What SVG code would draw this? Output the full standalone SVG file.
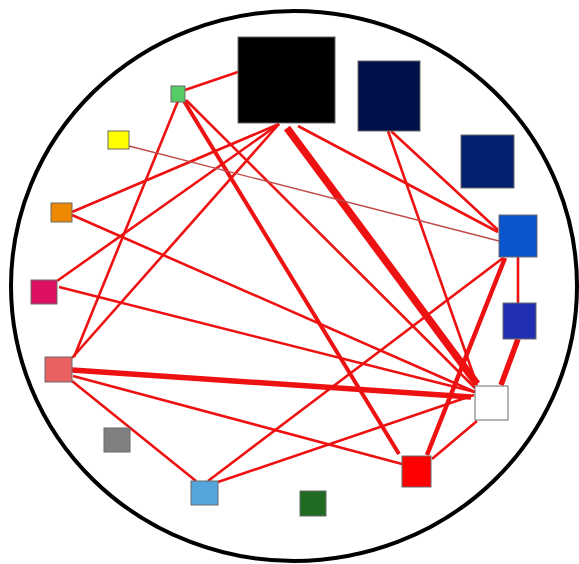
<svg xmlns="http://www.w3.org/2000/svg" width="579" height="564" viewBox="0 0 579 564">
<style>
.n{stroke:#6a6a6a;stroke-width:1}
.e{stroke:#ee1111;stroke-width:2.6;fill:none;stroke-linecap:butt}
.t{stroke:#c04a4a;stroke-width:1.4}
.w3{stroke-width:4}
.w4{stroke-width:4.5}
.w5{stroke-width:5.5}
.w7{stroke-width:7.5}
</style>
<rect width="579" height="564" fill="#ffffff"/>
<ellipse cx="294" cy="286" rx="283" ry="275" fill="none" stroke="#000" stroke-width="4"/>
<g id="connectors">
<line class="e" x1="185" y1="90" x2="238" y2="72"/>
<line class="e" x1="178" y1="101" x2="74" y2="357"/>
<line class="e w3" x1="184" y1="101" x2="399" y2="454"/>
<line class="e" x1="186" y1="100" x2="475" y2="388"/>
<line class="e" x1="279" y1="124" x2="72" y2="212"/>
<line class="e" x1="279" y1="124" x2="57" y2="281"/>
<line class="e" x1="279" y1="124" x2="72" y2="358"/>
<line class="e w7" x1="287" y1="128" x2="477" y2="384"/>
<line class="e" x1="298" y1="126" x2="498" y2="232"/>
<line class="e" x1="388" y1="131" x2="477" y2="385"/>
<line class="e" x1="391" y1="131" x2="498" y2="230"/>
<line class="e t" x1="129" y1="146" x2="499" y2="241"/>
<line class="e" x1="72" y1="215" x2="475" y2="392"/>
<line class="e" x1="59" y1="287" x2="475" y2="392"/>
<line class="e w5" x1="72" y1="370" x2="471" y2="397"/>
<line class="e" x1="73" y1="376" x2="402" y2="464"/>
<line class="e" x1="72" y1="381" x2="196" y2="481"/>
<line class="e" x1="218" y1="482" x2="474" y2="395"/>
<line class="e" x1="208" y1="481" x2="503" y2="258"/>
<line class="e w4" x1="505" y1="258" x2="427" y2="455"/>
<line class="e" x1="518" y1="257" x2="518" y2="303"/>
<line class="e w5" x1="518" y1="339" x2="501" y2="385"/>
<line class="e" x1="432" y1="459" x2="477" y2="421"/>
</g>
<g id="n-black"><rect class="n" x="238" y="37" width="97" height="86" fill="#000000"/></g>
<g id="n-navy1"><rect class="n" x="358" y="61" width="62" height="70" fill="#001048"/></g>
<g id="n-navy2"><rect class="n" x="461" y="135" width="53" height="53" fill="#01206f"/></g>
<g id="n-blue"><rect class="n" x="499" y="215" width="38" height="42" fill="#0a55cc"/></g>
<g id="n-darkblue"><rect class="n" x="503" y="303" width="33" height="36" fill="#2030b0"/></g>
<g id="n-white"><rect class="n" x="475" y="386" width="33" height="34" fill="#ffffff" stroke="#888"/></g>
<g id="n-red"><rect class="n" x="402" y="456" width="29" height="31" fill="#ff0000"/></g>
<g id="n-darkgreen"><rect class="n" x="300" y="491" width="26" height="25" fill="#1f6b22"/></g>
<g id="n-lightblue"><rect class="n" x="191" y="481" width="27" height="24" fill="#55a5dd"/></g>
<g id="n-gray"><rect class="n" x="104" y="428" width="26" height="24" fill="#808080"/></g>
<g id="n-salmon"><rect class="n" x="45" y="357" width="27" height="25" fill="#e86060"/></g>
<g id="n-crimson"><rect class="n" x="31" y="280" width="26" height="24" fill="#dd1162"/></g>
<g id="n-orange"><rect class="n" x="51" y="203" width="21" height="19" fill="#ee8800"/></g>
<g id="n-yellow"><rect class="n" x="108" y="131" width="21" height="18" fill="#ffff00"/></g>
<g id="n-green"><rect class="n" x="171" y="86" width="14" height="16" fill="#55cc66"/></g>
</svg>
